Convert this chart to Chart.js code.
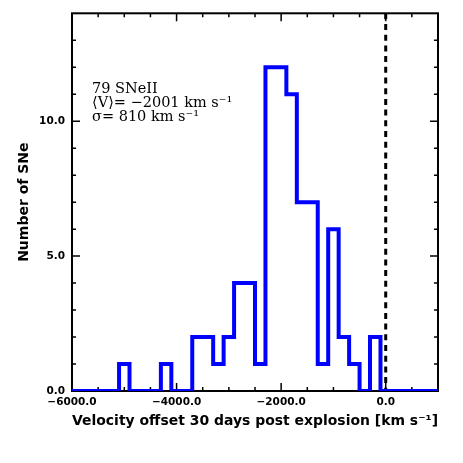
<!DOCTYPE html>
<html>
<head>
<meta charset="utf-8">
<script src="https://cdn.jsdelivr.net/npm/chart.js"></script>
<style>
  html, body { margin: 0; padding: 0; background: #fff; }
</style>
</head>
<body>
<canvas id="grafico" width="463" height="463"></canvas>
<script>
// bin centres (km/s) and number of SNe in each 200 km/s bin
var binCenters = [-5000, -4800, -4600, -4400, -4200, -4000, -3800, -3600, -3400, -3200,
                  -3000, -2800, -2600, -2400, -2200, -2000, -1800, -1600, -1400, -1200,
                  -1000, -800, -600, -400, -200];
var binCounts  = [1, 0, 0, 0, 1, 0, 0, 2, 2, 1,
                  2, 4, 4, 1, 12, 12, 11, 7, 7, 1,
                  6, 2, 1, 0, 2];
var binWidth = 200;

var xMajorTicks = [-6000, -4000, -2000, 0];
var xMinorTicks = [-5500, -5000, -4500, -3500, -3000, -2500, -1500, -1000, -500, 500];
var yMajorTicks = [0, 5, 10];
var yMinorTicks = [1, 2, 3, 4, 6, 7, 8, 9, 11, 12, 13];
var xRange = [-6000, 1000];
var yRange = [0, 14];
var zeroLine = 0;

var noteLines = ['79 SNeII', '\u27E8V\u27E9= \u22122001 km s\u207B\u00B9', '\u03C3= 810 km s\u207B\u00B9'];

// punti per la linea a gradini (bordo sinistro di ogni bin)
var punti = [{x: xRange[0], y: 0}];
for (var i = 0; i < binCenters.length; i++) {
  punti.push({x: binCenters[i] - binWidth / 2, y: binCounts[i]});
}
punti.push({x: binCenters[binCenters.length - 1] + binWidth / 2, y: 0});
punti.push({x: xRange[1], y: 0});

function formatta(v) {
  var s = Math.abs(v).toFixed(1);
  return v < 0 ? '\u2212' + s : s;
}

var tickFont = {family: 'DejaVu Sans', weight: 'bold', size: 10.5};
var titleFont = {family: 'DejaVu Sans', weight: 'bold', size: 14};

// cornice, tacche interne e linea tratteggiata
var cornice = {
  id: 'cornice',
  beforeDatasetsDraw: function(chart) {
    var ctx = chart.ctx;
    var a = chart.chartArea;
    var sx = chart.scales.x, sy = chart.scales.y;
    ctx.save();
    ctx.strokeStyle = '#000';
    ctx.lineWidth = 2;
    ctx.strokeRect(a.left, a.top, a.right - a.left, a.bottom - a.top);

    function tacchaX(v, len) {
      var px = sx.getPixelForValue(v);
      ctx.beginPath();
      ctx.moveTo(px, a.bottom); ctx.lineTo(px, a.bottom - len);
      ctx.moveTo(px, a.top); ctx.lineTo(px, a.top + len);
      ctx.stroke();
    }
    function tacchaY(v, len) {
      var py = sy.getPixelForValue(v);
      ctx.beginPath();
      ctx.moveTo(a.left, py); ctx.lineTo(a.left + len, py);
      ctx.moveTo(a.right, py); ctx.lineTo(a.right - len, py);
      ctx.stroke();
    }
    ctx.lineWidth = 1.5;
    xMajorTicks.forEach(function(v) { tacchaX(v, 8); });
    xMinorTicks.forEach(function(v) { tacchaX(v, 4); });
    yMajorTicks.forEach(function(v) { tacchaY(v, 8); });
    yMinorTicks.forEach(function(v) { tacchaY(v, 4); });

    // linea verticale tratteggiata a velocita' zero
    var zx = sx.getPixelForValue(zeroLine);
    ctx.lineWidth = 3;
    ctx.setLineDash([6, 4.7]);
    ctx.beginPath();
    ctx.moveTo(zx, a.top);
    ctx.lineTo(zx, a.bottom);
    ctx.stroke();
    ctx.setLineDash([]);

    // testo dentro il grafico
    ctx.fillStyle = '#000';
    ctx.font = '14.5px "DejaVu Serif"';
    ctx.textBaseline = 'alphabetic';
    ctx.textAlign = 'left';
    for (var j = 0; j < noteLines.length; j++) {
      ctx.fillText(noteLines[j], a.left + 20, 92.5 + j * 14);
    }
    ctx.restore();
  }
};

var grafico = new Chart(document.getElementById('grafico'), {
  type: 'line',
  data: {
    datasets: [{
      data: punti,
      stepped: 'before',
      borderColor: '#0000ff',
      borderWidth: 4,
      borderJoinStyle: 'miter',
      pointRadius: 0,
      fill: false
    }]
  },
  options: {
    responsive: false,
    animation: false,
    layout: {padding: {top: 11, right: 25, left: 0, bottom: 0}},
    plugins: {legend: {display: false}, tooltip: {enabled: false}},
    scales: {
      x: {
        type: 'linear',
        min: xRange[0],
        max: xRange[1],
        grid: {display: false, drawTicks: false},
        border: {display: false},
        afterBuildTicks: function(s) { s.ticks = xMajorTicks.map(function(v) { return {value: v}; }); },
        afterFit: function(s) { s.height = 72; },
        ticks: {
          padding: 5, maxRotation: 0, autoSkip: false, color: '#000', font: tickFont,
          callback: function(v) { return formatta(v); }
        },
        title: {
          display: true,
          text: 'Velocity offset 30 days post explosion [km s\u207B\u00B9]',
          color: '#000', font: titleFont, padding: {top: 0, bottom: 33}
        }
      },
      y: {
        type: 'linear',
        min: yRange[0],
        max: yRange[1],
        grid: {display: false, drawTicks: false},
        border: {display: false},
        afterBuildTicks: function(s) { s.ticks = yMajorTicks.map(function(v) { return {value: v}; }); },
        afterFit: function(s) { s.width = 72; },
        ticks: {
          padding: 7, autoSkip: false, color: '#000', font: tickFont,
          callback: function(v) { return formatta(v); }
        },
        title: {
          display: true,
          text: 'Number of SNe',
          color: '#000', font: titleFont, padding: {top: 16, bottom: 0}
        }
      }
    }
  },
  plugins: [cornice]
});
</script>
</body>
</html>
